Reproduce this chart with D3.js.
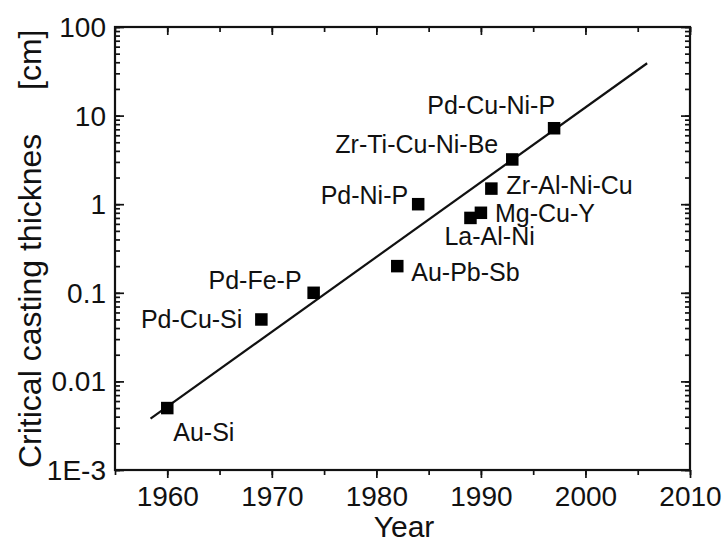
<!DOCTYPE html>
<html>
<head>
<meta charset="utf-8">
<script src="https://cdn.jsdelivr.net/npm/d3@7"></script>
<style>
  html, body { margin: 0; padding: 0; background: #fff; }
  svg { display: block; }
  text { font-family: "Liberation Sans", Arial, Helvetica, sans-serif; fill: #111; }
</style>
</head>
<body>
<svg id="chart" width="724" height="544"></svg>
<script>
// ---- data ----
const alloys = ["Au-Si", "Pd-Cu-Si", "Pd-Fe-P", "Au-Pb-Sb", "Pd-Ni-P", "La-Al-Ni", "Mg-Cu-Y", "Zr-Al-Ni-Cu", "Zr-Ti-Cu-Ni-Be", "Pd-Cu-Ni-P"];
const years = [1960, 1969, 1974, 1982, 1984, 1989, 1990, 1991, 1993, 1997];
const thickness = [0.005, 0.05, 0.1, 0.2, 1, 0.7, 0.8, 1.5, 3.2, 7.2];
const fitYears = [1958.4, 2005.9];
const fitThickness = [0.0038, 39];
const xTicks = [1960, 1970, 1980, 1990, 2000, 2010];
const yTicks = [0.001, 0.01, 0.1, 1, 10, 100];
const yTickLabels = ["1E-3", "0.01", "0.1", "1", "10", "100"];

// ---- layout (label placement relative to its point) ----
const labelPlace = [
  [6, 33, "start"], [-19, 9, "end"], [-12, -4, "end"], [14, 15, "start"], [-10, 0, "end"],
  [-26, 27, "start"], [14, 9, "start"], [15, 5, "start"], [-14, -6, "end"], [1, -14, "end"]
];

const W = 724, H = 544;
const m = {left: 115, top: 27, right: 34, bottom: 74};
const svg = d3.select("#chart");
const x = d3.scaleLinear().domain([1955, 2010]).range([m.left, W - m.right]);
const y = d3.scaleLog().domain([0.001, 100]).range([H - m.bottom, m.top]);

const minorX = d3.range(1955, 2011, 5);
const minorY = [];
for (let e = -3; e < 2; e++) for (let k = 1; k <= 9; k++) minorY.push(k * Math.pow(10, e));
minorY.push(100);

const majX = 8, minX = 5, majY = 9, minY = 5;

// bottom axis: ticks point outward
const gB = svg.append("g").attr("transform", `translate(0,${H - m.bottom})`)
  .call(d3.axisBottom(x).tickValues(minorX).tickSize(minX).tickFormat(""));
gB.select(".domain").remove();
const gB2 = svg.append("g").attr("transform", `translate(0,${H - m.bottom})`)
  .call(d3.axisBottom(x).tickValues(xTicks).tickSize(majX).tickPadding(8).tickFormat(d3.format("d")));
gB2.select(".domain").remove();
gB2.selectAll("text").attr("font-size", 28).attr("font-family", "Liberation Sans, Arial, sans-serif").attr("fill", "#111");

// top axis: ticks inward
const gT = svg.append("g").attr("transform", `translate(0,${m.top})`)
  .call(d3.axisBottom(x).tickValues(minorX).tickSize(minX).tickFormat(""));
gT.select(".domain").remove();
const gT2 = svg.append("g").attr("transform", `translate(0,${m.top})`)
  .call(d3.axisBottom(x).tickValues(xTicks).tickSize(majX).tickFormat(""));
gT2.select(".domain").remove();

// left axis: ticks inward
const gL = svg.append("g").attr("transform", `translate(${m.left},0)`)
  .call(d3.axisRight(y).tickValues(minorY).tickSize(minY).tickFormat(""));
gL.select(".domain").remove();
const gL2 = svg.append("g").attr("transform", `translate(${m.left},0)`)
  .call(d3.axisRight(y).tickValues(yTicks).tickSize(majY).tickFormat(""));
gL2.select(".domain").remove();
svg.append("g").selectAll("text").data(yTicks).join("text")
  .attr("x", m.left - 9).attr("y", d => y(d) + 10)
  .attr("text-anchor", "end").attr("font-size", 28)
  .text((d, i) => yTickLabels[i]);

// right axis: ticks inward
const gR = svg.append("g").attr("transform", `translate(${W - m.right},0)`)
  .call(d3.axisLeft(y).tickValues(minorY).tickSize(minY).tickFormat(""));
gR.select(".domain").remove();
const gR2 = svg.append("g").attr("transform", `translate(${W - m.right},0)`)
  .call(d3.axisLeft(y).tickValues(yTicks).tickSize(majY).tickFormat(""));
gR2.select(".domain").remove();

svg.selectAll(".tick line").attr("stroke", "#111").attr("stroke-width", 1.7);

// frame
svg.append("rect").attr("x", m.left).attr("y", m.top)
  .attr("width", W - m.left - m.right).attr("height", H - m.top - m.bottom)
  .attr("fill", "none").attr("stroke", "#111").attr("stroke-width", 2.2);

// fit line
const fit = fitYears.map((d, i) => [d, fitThickness[i]]);
svg.append("path").datum(fit)
  .attr("d", d3.line().x(d => x(d[0])).y(d => y(d[1])))
  .attr("fill", "none").attr("stroke", "#111").attr("stroke-width", 2.2);

// points
const pts = years.map((d, i) => ({year: d, v: thickness[i], name: alloys[i], p: labelPlace[i]}));
const S = 12.5;
svg.append("g").selectAll("rect").data(pts).join("rect")
  .attr("x", d => x(d.year) - S / 2).attr("y", d => y(d.v) - S / 2)
  .attr("width", S).attr("height", S).attr("fill", "#000");

svg.append("g").selectAll("text").data(pts).join("text")
  .attr("x", d => x(d.year) + d.p[0]).attr("y", d => y(d.v) + d.p[1])
  .attr("text-anchor", d => d.p[2]).attr("font-size", 25)
  .text(d => d.name);

// axis titles
svg.append("text").attr("x", 404).attr("y", 537)
  .attr("text-anchor", "middle").attr("font-size", 30).text("Year");
const yt = svg.append("text").attr("transform", "translate(41,468) rotate(-90)")
  .attr("font-size", 32);
yt.append("tspan").text("Critical casting thicknes");
yt.append("tspan").attr("x", 378).text("[cm]");
</script>
</body>
</html>
